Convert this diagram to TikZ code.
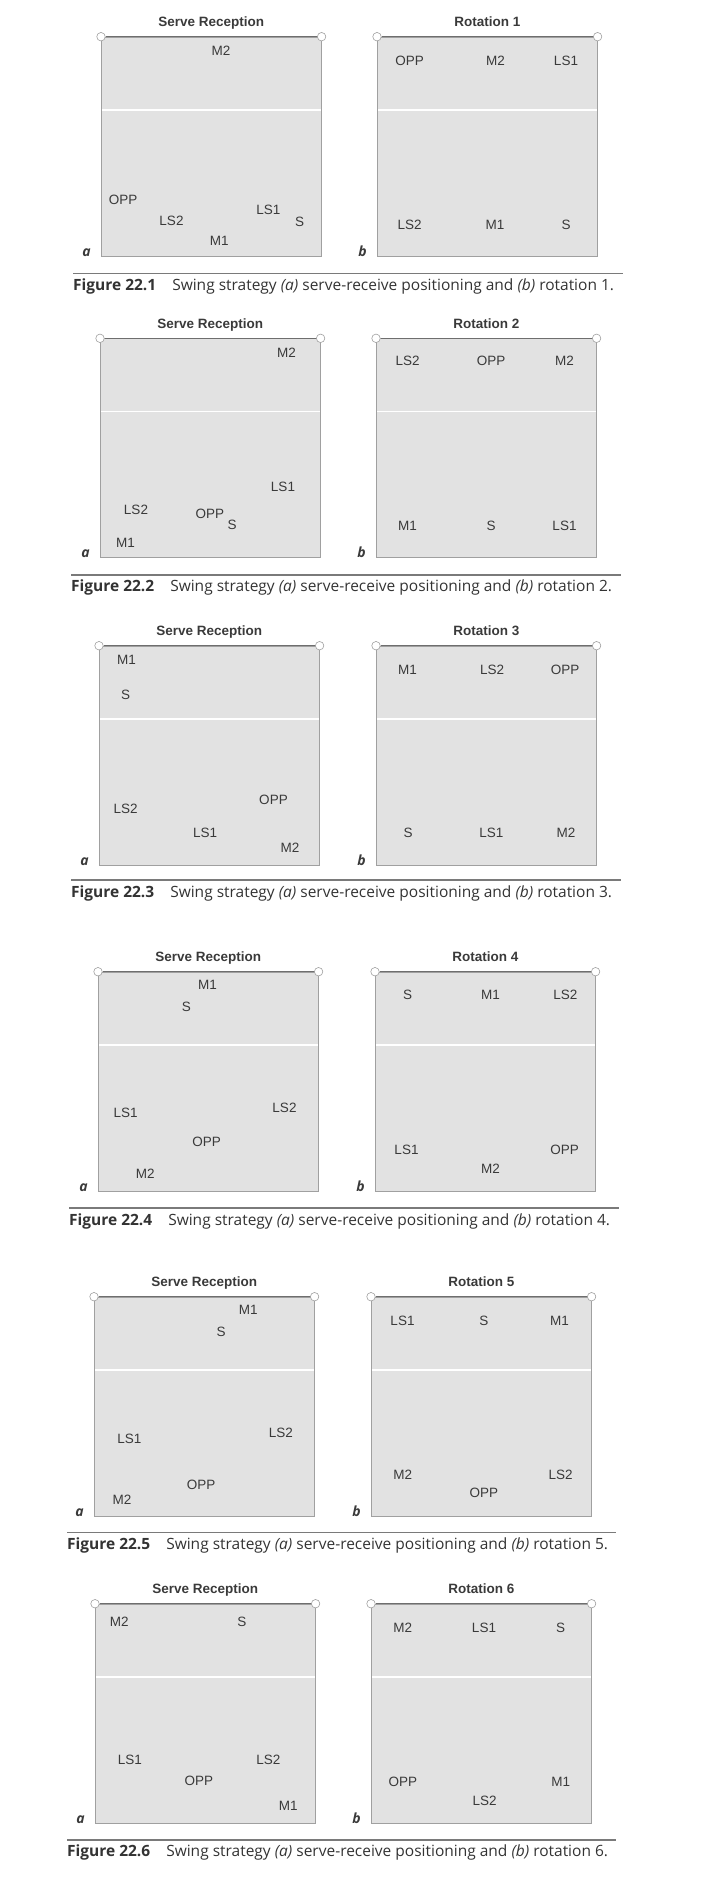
\documentclass[tikz,border=0pt]{standalone}
\usepackage{fontspec}
\setmainfont{Liberation Sans}
\newfontfamily\capfont{Open Sans}
\usepackage{tikz}
\usetikzlibrary{positioning}
\definecolor{courtgray}{HTML}{E2E2E2}
\definecolor{linegray}{HTML}{A0A0A0}
\definecolor{topgray}{HTML}{6E6E6E}
\definecolor{labelgray}{HTML}{3A3A3A}
\definecolor{capgray}{HTML}{333333}
\definecolor{rulegray}{HTML}{7A7A7A}

\begin{document}
\begin{tikzpicture}[
        x=1pt, y=-1pt,
        court/.style={rectangle, draw=linegray, line width=0.6pt, fill=courtgray, minimum width=220pt, minimum height=219pt, inner sep=0pt, anchor=north west,
            path picture={\draw[white, line width=1.4pt] ([yshift=-73pt]path picture bounding box.north west) -- ([yshift=-73pt]path picture bounding box.north east);}},
        post/.style={circle, draw=linegray, fill=white, line width=0.6pt, minimum size=8.5pt, inner sep=0pt},
        topline/.style={draw=topgray, line width=1pt},
        player/.style={inner sep=0pt, text=labelgray, font=\fontsize{13.5}{16}\selectfont},
        heading/.style={inner sep=0pt, text=labelgray, font=\bfseries\fontsize{13.5}{16}\selectfont},
        tag/.style={inner sep=0pt, text=labelgray, font=\capfont\bfseries\itshape\fontsize{14}{16}\selectfont},
        figcap/.style={inner sep=0pt, anchor=west, text=capgray, font=\capfont\fontsize{15.5}{18}\selectfont},
        rule/.style={draw=rulegray, line width=1.5pt}
    ]
        \useasboundingbox (0,0) rectangle (709,1890);

        % Figure 22.1
        \node[court] (c1a) at (101,36.7) {};
        \node[court] (c1b) at (377,36.7) {};
        \node[post] (p1a1) at (c1a.north west) {};
        \node[post] (p1a2) at (c1a.north east) {};
        \node[post] (p1b1) at (c1b.north west) {};
        \node[post] (p1b2) at (c1b.north east) {};
        \draw[topline] (p1a1) -- (p1a2);
        \draw[topline] (p1b1) -- (p1b2);
        \node[heading, above=10pt of c1a, anchor=base] (h1a) {Serve Reception};
        \node[heading, above=10pt of c1b, anchor=base] (h1b) {Rotation 1};
        \node[tag, left=10pt of c1a.south west, anchor=base east] (t1a) {a};
        \node[tag, left=10pt of c1b.south west, anchor=base east] (t1b) {b};

        \node[player] (m2-1a) at (221.0,50.7) {M2};
        \node[player] (opp-1a) at (123.1,200.1) {OPP};
        \node[player] (ls2-1a) at (171.5,221.1) {LS2};
        \node[player] (ls1-1a) at (268.3,209.7) {LS1};
        \node[player] (s-1a) at (299.7,221.8) {S};
        \node[player] (m1-1a) at (219.2,240.4) {M1};

        \node[player] (opp-1b) at (409.6,61.0) {OPP};
        \node[player] (m2-1b) at (495.5,61.0) {M2};
        \node[player] (ls1-1b) at (566.0,61.0) {LS1};
        \node[player] (ls2-1b) at (409.6,225.0) {LS2};
        \node[player] (m1-1b) at (495.0,225.0) {M1};
        \node[player] (s-1b) at (566.0,225.0) {S};

        \coordinate (r1w) at (73,273.5);
        \coordinate (r1e) at (623,273.5);
        \draw[rule] (r1w) -- (r1e);
        \node[figcap] (f1) at (73,286) {\textbf{Figure 22.1}\hspace{16pt}Swing strategy \textit{(a)} serve-receive positioning and \textit{(b)} rotation 1.};

        % Figure 22.2
        \node[court] (c2a) at (100,338.3) {};
        \node[court] (c2b) at (376,338.3) {};
        \node[post] (p2a1) at (c2a.north west) {};
        \node[post] (p2a2) at (c2a.north east) {};
        \node[post] (p2b1) at (c2b.north west) {};
        \node[post] (p2b2) at (c2b.north east) {};
        \draw[topline] (p2a1) -- (p2a2);
        \draw[topline] (p2b1) -- (p2b2);
        \node[heading, above=10pt of c2a, anchor=base] (h2a) {Serve Reception};
        \node[heading, above=10pt of c2b, anchor=base] (h2b) {Rotation 2};
        \node[tag, left=10pt of c2a.south west, anchor=base east] (t2a) {a};
        \node[tag, left=10pt of c2b.south west, anchor=base east] (t2b) {b};

        \node[player] (m2-2a) at (286.5,352.3) {M2};
        \node[player] (ls1-2a) at (283.0,487.2) {LS1};
        \node[player] (ls2-2a) at (136.0,510.0) {LS2};
        \node[player] (opp-2a) at (209.8,514.0) {OPP};
        \node[player] (s-2a) at (232.2,525.3) {S};
        \node[player] (m1-2a) at (125.4,543.3) {M1};

        \node[player] (ls2-2b) at (407.6,361.1) {LS2};
        \node[player] (opp-2b) at (491.2,361.1) {OPP};
        \node[player] (m2-2b) at (564.5,361.1) {M2};
        \node[player] (m1-2b) at (407.6,525.8) {M1};
        \node[player] (s-2b) at (491.2,525.8) {S};
        \node[player] (ls1-2b) at (564.5,525.8) {LS1};

        \coordinate (r2w) at (71,575);
        \coordinate (r2e) at (621,575);
        \draw[rule] (r2w) -- (r2e);
        \node[figcap] (f2) at (71,587) {\textbf{Figure 22.2}\hspace{16pt}Swing strategy \textit{(a)} serve-receive positioning and \textit{(b)} rotation 2.};

        % Figure 22.3
        \node[court] (c3a) at (99,645.7) {};
        \node[court] (c3b) at (376,645.7) {};
        \node[post] (p3a1) at (c3a.north west) {};
        \node[post] (p3a2) at (c3a.north east) {};
        \node[post] (p3b1) at (c3b.north west) {};
        \node[post] (p3b2) at (c3b.north east) {};
        \draw[topline] (p3a1) -- (p3a2);
        \draw[topline] (p3b1) -- (p3b2);
        \node[heading, above=10pt of c3a, anchor=base] (h3a) {Serve Reception};
        \node[heading, above=10pt of c3b, anchor=base] (h3b) {Rotation 3};
        \node[tag, left=10pt of c3a.south west, anchor=base east] (t3a) {a};
        \node[tag, left=10pt of c3b.south west, anchor=base east] (t3b) {b};

        \node[player] (m1-3a) at (126.6,660.0) {M1};
        \node[player] (s-3a) at (125.7,695.0) {S};
        \node[player] (ls2-3a) at (125.7,808.4) {LS2};
        \node[player] (opp-3a) at (273.5,799.9) {OPP};
        \node[player] (ls1-3a) at (205.1,833.2) {LS1};
        \node[player] (m2-3a) at (290.0,848.1) {M2};

        \node[player] (m1-3b) at (407.5,669.6) {M1};
        \node[player] (ls2-3b) at (492.2,669.6) {LS2};
        \node[player] (opp-3b) at (565.2,669.6) {OPP};
        \node[player] (s-3b) at (408.2,833.2) {S};
        \node[player] (ls1-3b) at (491.3,833.2) {LS1};
        \node[player] (m2-3b) at (566.0,833.2) {M2};

        \coordinate (r3w) at (71,880);
        \coordinate (r3e) at (621,880);
        \draw[rule] (r3w) -- (r3e);
        \node[figcap] (f3) at (71,893) {\textbf{Figure 22.3}\hspace{16pt}Swing strategy \textit{(a)} serve-receive positioning and \textit{(b)} rotation 3.};

        % Figure 22.4
        \node[court] (c4a) at (98,971.7) {};
        \node[court] (c4b) at (375,971.7) {};
        \node[post] (p4a1) at (c4a.north west) {};
        \node[post] (p4a2) at (c4a.north east) {};
        \node[post] (p4b1) at (c4b.north west) {};
        \node[post] (p4b2) at (c4b.north east) {};
        \draw[topline] (p4a1) -- (p4a2);
        \draw[topline] (p4b1) -- (p4b2);
        \node[heading, above=10pt of c4a, anchor=base] (h4a) {Serve Reception};
        \node[heading, above=10pt of c4b, anchor=base] (h4b) {Rotation 4};
        \node[tag, left=10pt of c4a.south west, anchor=base east] (t4a) {a};
        \node[tag, left=10pt of c4b.south west, anchor=base east] (t4b) {b};

        \node[player] (m1-4a) at (207.6,985.1) {M1};
        \node[player] (s-4a) at (186.4,1006.7) {S};
        \node[player] (ls1-4a) at (125.6,1112.7) {LS1};
        \node[player] (ls2-4a) at (284.5,1107.5) {LS2};
        \node[player] (opp-4a) at (206.7,1142.3) {OPP};
        \node[player] (m2-4a) at (145.3,1174.1) {M2};

        \node[player] (s-4b) at (407.6,994.5) {S};
        \node[player] (m1-4b) at (490.4,994.5) {M1};
        \node[player] (ls2-4b) at (565.3,994.5) {LS2};
        \node[player] (ls1-4b) at (406.5,1150.0) {LS1};
        \node[player] (opp-4b) at (564.6,1150.0) {OPP};
        \node[player] (m2-4b) at (490.4,1168.4) {M2};

        \coordinate (r4w) at (69,1208);
        \coordinate (r4e) at (619,1208);
        \draw[rule] (r4w) -- (r4e);
        \node[figcap] (f4) at (69,1221.7) {\textbf{Figure 22.4}\hspace{16pt}Swing strategy \textit{(a)} serve-receive positioning and \textit{(b)} rotation 4.};

        % Figure 22.5
        \node[court] (c5a) at (94,1296.7) {};
        \node[court] (c5b) at (371,1296.7) {};
        \node[post] (p5a1) at (c5a.north west) {};
        \node[post] (p5a2) at (c5a.north east) {};
        \node[post] (p5b1) at (c5b.north west) {};
        \node[post] (p5b2) at (c5b.north east) {};
        \draw[topline] (p5a1) -- (p5a2);
        \draw[topline] (p5b1) -- (p5b2);
        \node[heading, above=10pt of c5a, anchor=base] (h5a) {Serve Reception};
        \node[heading, above=10pt of c5b, anchor=base] (h5b) {Rotation 5};
        \node[tag, left=10pt of c5a.south west, anchor=base east] (t5a) {a};
        \node[tag, left=10pt of c5b.south west, anchor=base east] (t5b) {b};

        \node[player] (m1-5a) at (248.3,1310.1) {M1};
        \node[player] (s-5a) at (221.2,1331.7) {S};
        \node[player] (ls1-5a) at (129.4,1439.3) {LS1};
        \node[player] (ls2-5a) at (280.8,1432.7) {LS2};
        \node[player] (opp-5a) at (201.2,1484.4) {OPP};
        \node[player] (m2-5a) at (122.1,1499.9) {M2};

        \node[player] (ls1-5b) at (402.5,1320.4) {LS1};
        \node[player] (s-5b) at (483.8,1320.4) {S};
        \node[player] (m1-5b) at (559.4,1320.4) {M1};
        \node[player] (m2-5b) at (402.8,1474.5) {M2};
        \node[player] (ls2-5b) at (560.7,1474.5) {LS2};
        \node[player] (opp-5b) at (483.8,1492.5) {OPP};

        \coordinate (r5w) at (67,1532.3);
        \coordinate (r5e) at (616,1532.3);
        \draw[rule] (r5w) -- (r5e);
        \node[figcap] (f5) at (67,1545) {\textbf{Figure 22.5}\hspace{16pt}Swing strategy \textit{(a)} serve-receive positioning and \textit{(b)} rotation 5.};

        % Figure 22.6
        \node[court] (c6a) at (95,1603.7) {};
        \node[court] (c6b) at (371,1603.7) {};
        \node[post] (p6a1) at (c6a.north west) {};
        \node[post] (p6a2) at (c6a.north east) {};
        \node[post] (p6b1) at (c6b.north west) {};
        \node[post] (p6b2) at (c6b.north east) {};
        \draw[topline] (p6a1) -- (p6a2);
        \draw[topline] (p6b1) -- (p6b2);
        \node[heading, above=10pt of c6a, anchor=base] (h6a) {Serve Reception};
        \node[heading, above=10pt of c6b, anchor=base] (h6b) {Rotation 6};
        \node[tag, left=10pt of c6a.south west, anchor=base east] (t6a) {a};
        \node[tag, left=10pt of c6b.south west, anchor=base east] (t6b) {b};

        \node[player] (m2-6a) at (119.3,1621.7) {M2};
        \node[player] (s-6a) at (241.8,1621.7) {S};
        \node[player] (ls1-6a) at (129.9,1760.1) {LS1};
        \node[player] (ls2-6a) at (268.4,1760.1) {LS2};
        \node[player] (opp-6a) at (198.8,1780.7) {OPP};
        \node[player] (m1-6a) at (288.2,1806.1) {M1};

        \node[player] (m2-6b) at (402.8,1627.8) {M2};
        \node[player] (ls1-6b) at (484.0,1627.8) {LS1};
        \node[player] (s-6b) at (560.7,1627.8) {S};
        \node[player] (opp-6b) at (402.8,1781.7) {OPP};
        \node[player] (m1-6b) at (560.7,1781.7) {M1};
        \node[player] (ls2-6b) at (484.6,1800.4) {LS2};

        \coordinate (r6w) at (67,1840);
        \coordinate (r6e) at (616,1840);
        \draw[rule] (r6w) -- (r6e);
        \node[figcap] (f6) at (67,1852.7) {\textbf{Figure 22.6}\hspace{16pt}Swing strategy \textit{(a)} serve-receive positioning and \textit{(b)} rotation 6.};

    \end{tikzpicture}
\end{document}
